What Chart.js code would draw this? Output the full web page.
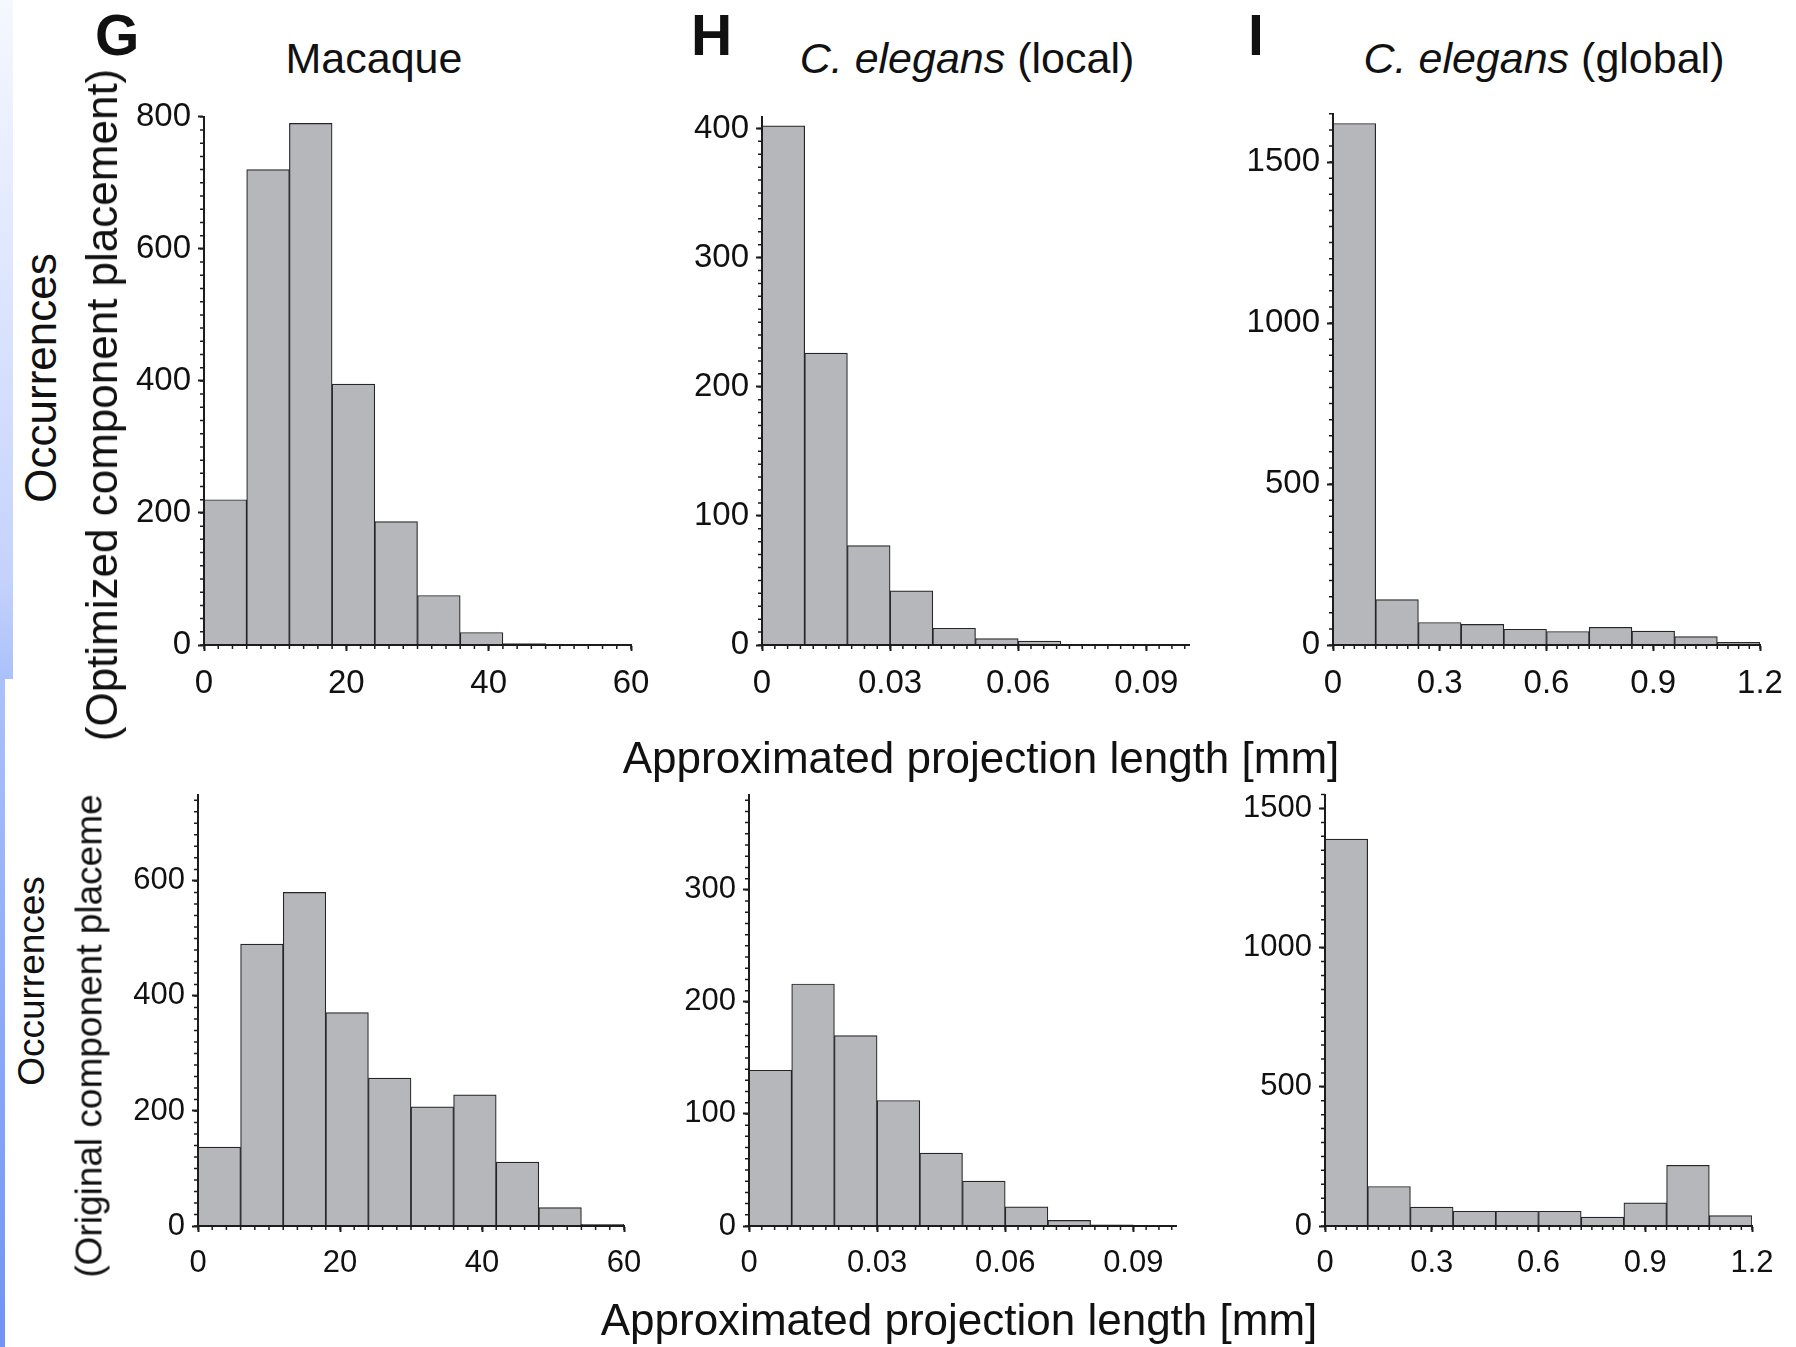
<!DOCTYPE html>
<html>
<head>
<meta charset="utf-8">
<title>Projection length histograms</title>
<script src="https://cdn.jsdelivr.net/npm/chart.js@4.4.1/dist/chart.umd.min.js"></script>
<style>
  html, body { margin: 0; padding: 0; background: #fff; }
  body {
    width: 1796px; height: 1347px; position: relative; overflow: hidden;
    font-family: "Liberation Sans", Arial, sans-serif; color: #111;
  }
  /* slide edge on the left */
  .edge-top { position: absolute; left: 0; top: 0; width: 13px; height: 679px;
    background: linear-gradient(#f6f8ff 0px, #c4d2fc 580px, #abc1fc 679px); }
  .edge-bot { position: absolute; left: 0; top: 679px; width: 5px; height: 668px;
    background: linear-gradient(#abc1fc, #7093f5); }
  canvas { position: absolute; }
  .txt { position: absolute; white-space: nowrap; line-height: 1; }
  .letter { font-weight: bold; font-size: 57px; }
  .title { font-size: 43px; transform: translateX(-50%); }
  .xtitle { font-size: 44px; transform: translateX(-50%); }
  .vtitle { transform: translate(-50%, -50%) rotate(-90deg); }
</style>
</head>
<body>
<div class="edge-top"></div>
<div class="edge-bot"></div>

<canvas id="gTop"></canvas>
<canvas id="hTop"></canvas>
<canvas id="iTop"></canvas>
<canvas id="gBot"></canvas>
<canvas id="hBot"></canvas>
<canvas id="iBot"></canvas>

<div class="txt letter" style="left:95px; top:7px;">G</div>
<div class="txt letter" style="left:691px; top:7px;">H</div>
<div class="txt letter" style="left:1248px; top:7px;">I</div>

<div class="txt title" style="left:374px; top:37px;">Macaque</div>
<div class="txt title" style="left:967px; top:37px;"><i>C. elegans</i> (local)</div>
<div class="txt title" style="left:1544px; top:37px;"><i>C. elegans</i> (global)</div>

<div class="txt vtitle" style="left:41px; top:378px; font-size:44px;">Occurrences</div>
<div class="txt vtitle" style="left:102px; top:405px; font-size:44px;">(Optimized component placement)</div>
<div class="txt vtitle" style="left:31px; top:981px; font-size:37px;">Occurrences</div>
<div class="txt vtitle" style="left:89px; top:1036px; font-size:37px;">(Original component placeme</div>

<div class="txt xtitle" style="left:981px; top:736px;">Approximated projection length [mm]</div>
<div class="txt xtitle" style="left:959px; top:1298px;">Approximated projection length [mm]</div>

<script>
// bin edges per organism
const macaqueEdges = [0, 6, 12, 18, 24, 30, 36, 42, 48, 54, 60];
const localEdges = [0, 0.01, 0.02, 0.03, 0.04, 0.05, 0.06, 0.07, 0.08, 0.09, 0.1];
const globalEdges = [0, 0.12, 0.24, 0.36, 0.48, 0.6, 0.72, 0.84, 0.96, 1.08, 1.2];

// labelled x ticks
const macaqueXTicks = [0, 20, 40, 60];
const localXTicks = [0, 0.03, 0.06, 0.09];
const globalXTicks = [0, 0.3, 0.6, 0.9, 1.2];

// counts per bin, optimized placement (top row)
const macaqueOptimized = [220, 720, 790, 395, 187, 75, 19, 2, 0, 0];
const localOptimized = [402, 226, 77, 42, 13, 5, 3, 0, 0, 0];
const globalOptimized = [1620, 141, 70, 64, 49, 42, 55, 43, 26, 8];

// counts per bin, original placement (bottom row)
const macaqueOriginal = [137, 490, 580, 371, 257, 207, 228, 111, 32, 3];
const localOriginal = [139, 216, 170, 112, 65, 40, 17, 5, 1, 0];
const globalOriginal = [1390, 142, 68, 53, 53, 53, 32, 83, 218, 37];

// labelled y ticks
const macaqueYTicksTop = [0, 200, 400, 600, 800];
const localYTicksTop = [0, 100, 200, 300, 400];
const globalYTicksTop = [0, 500, 1000, 1500];
const macaqueYTicksBottom = [0, 200, 400, 600];
const localYTicksBottom = [0, 100, 200, 300];
const globalYTicksBottom = [0, 500, 1000, 1500];

const BAR_FILL = '#b6b7bb';
const BAR_EDGE = '#262626';
const AXIS = '#1c1c1c';

// canvas margin around the plot area (y axis width, x axis height, etc.)
const PAD_L = 120, PAD_R = 40, PAD_T = 24, PAD_B = 70;

Chart.defaults.font.family = "'Liberation Sans', Arial, sans-serif";
Chart.defaults.color = '#111';

// short unlabelled ticks, ten per labelled step
const minorTicks = {
  id: 'minorTicks',
  afterDraw(chart, args, opts) {
    const { ctx } = chart;
    const xs = chart.scales.x, ys = chart.scales.y;
    ctx.save();
    ctx.strokeStyle = AXIS;
    ctx.lineWidth = 1.5;
    ctx.beginPath();
    for (let k = 0; k * opts.xMinor <= xs.max + 1e-9; k++) {
      const p = xs.getPixelForValue(k * opts.xMinor);
      ctx.moveTo(p, ys.bottom);
      ctx.lineTo(p, ys.bottom + 4);
    }
    for (let k = 0; k * opts.yMinor <= ys.max + 1e-9; k++) {
      const p = ys.getPixelForValue(k * opts.yMinor);
      ctx.moveTo(xs.left, p);
      ctx.lineTo(xs.left - 4, p);
    }
    ctx.stroke();
    ctx.restore();
  }
};

function histogram(id, box, edges, counts, xTicks, yTicks, yMax, fontSize) {
  const canvas = document.getElementById(id);
  const w = box.right - box.left + PAD_L + PAD_R;
  const h = box.bottom - box.top + PAD_T + PAD_B;
  canvas.width = w;
  canvas.height = h;
  canvas.style.left = (box.left - PAD_L) + 'px';
  canvas.style.top = (box.top - PAD_T) + 'px';
  canvas.style.width = w + 'px';
  canvas.style.height = h + 'px';

  const bars = counts.map((c, i) => ({ x: (edges[i] + edges[i + 1]) / 2, y: c }));
  const fmt = (v) => String(+v.toFixed(3));
  const axisGrid = { display: true, drawOnChartArea: false, drawTicks: true, tickLength: 6, tickColor: AXIS, tickWidth: 2 };
  const axisBorder = { display: true, color: AXIS, width: 2, z: 1 };

  return new Chart(canvas, {
    type: 'bar',
    data: {
      datasets: [{
        data: bars,
        backgroundColor: BAR_FILL,
        borderColor: BAR_EDGE,
        borderWidth: 1.2,
        barPercentage: 1,
        categoryPercentage: 1
      }]
    },
    options: {
      responsive: false,
      animation: false,
      devicePixelRatio: 1,
      layout: { padding: { top: PAD_T, right: PAD_R, left: 0, bottom: 0 } },
      plugins: {
        legend: { display: false },
        tooltip: { enabled: false },
        minorTicks: { xMinor: (xTicks[1] - xTicks[0]) / 10, yMinor: (yTicks[1] - yTicks[0]) / 10 }
      },
      scales: {
        x: {
          type: 'linear',
          min: edges[0],
          max: edges[edges.length - 1],
          offset: false,
          grid: Object.assign({ offset: false }, axisGrid),
          border: axisBorder,
          afterBuildTicks: (s) => { s.ticks = xTicks.map((v) => ({ value: v })); },
          ticks: {
            autoSkip: false, maxRotation: 0,
            padding: 13, font: { size: fontSize }, callback: fmt
          },
          afterFit: (s) => { s.height = PAD_B; }
        },
        y: {
          type: 'linear',
          min: 0,
          max: yMax,
          grid: axisGrid,
          border: axisBorder,
          afterBuildTicks: (s) => { s.ticks = yTicks.map((v) => ({ value: v })); },
          ticks: {
            autoSkip: false, padding: 7,
            font: { size: fontSize }, callback: fmt
          },
          afterFit: (s) => { s.width = PAD_L; }
        }
      }
    },
    plugins: [minorTicks]
  });
}

histogram('gTop', { left: 204, right: 631, top: 114, bottom: 645 }, macaqueEdges, macaqueOptimized, macaqueXTicks, macaqueYTicksTop, 800, 33);
histogram('hTop', { left: 762, right: 1189, top: 114, bottom: 645 }, localEdges, localOptimized, localXTicks, localYTicksTop, 409, 33);
histogram('iTop', { left: 1333, right: 1760, top: 111, bottom: 645 }, globalEdges, globalOptimized, globalXTicks, globalYTicksTop, 1650, 33);

histogram('gBot', { left: 198, right: 624, top: 793, bottom: 1226 }, macaqueEdges, macaqueOriginal, macaqueXTicks, macaqueYTicksBottom, 750, 31);
histogram('hBot', { left: 749, right: 1176, top: 793, bottom: 1226 }, localEdges, localOriginal, localXTicks, localYTicksBottom, 385, 31);
histogram('iBot', { left: 1325, right: 1752, top: 793, bottom: 1226 }, globalEdges, globalOriginal, globalXTicks, globalYTicksBottom, 1550, 31);
</script>
</body>
</html>
